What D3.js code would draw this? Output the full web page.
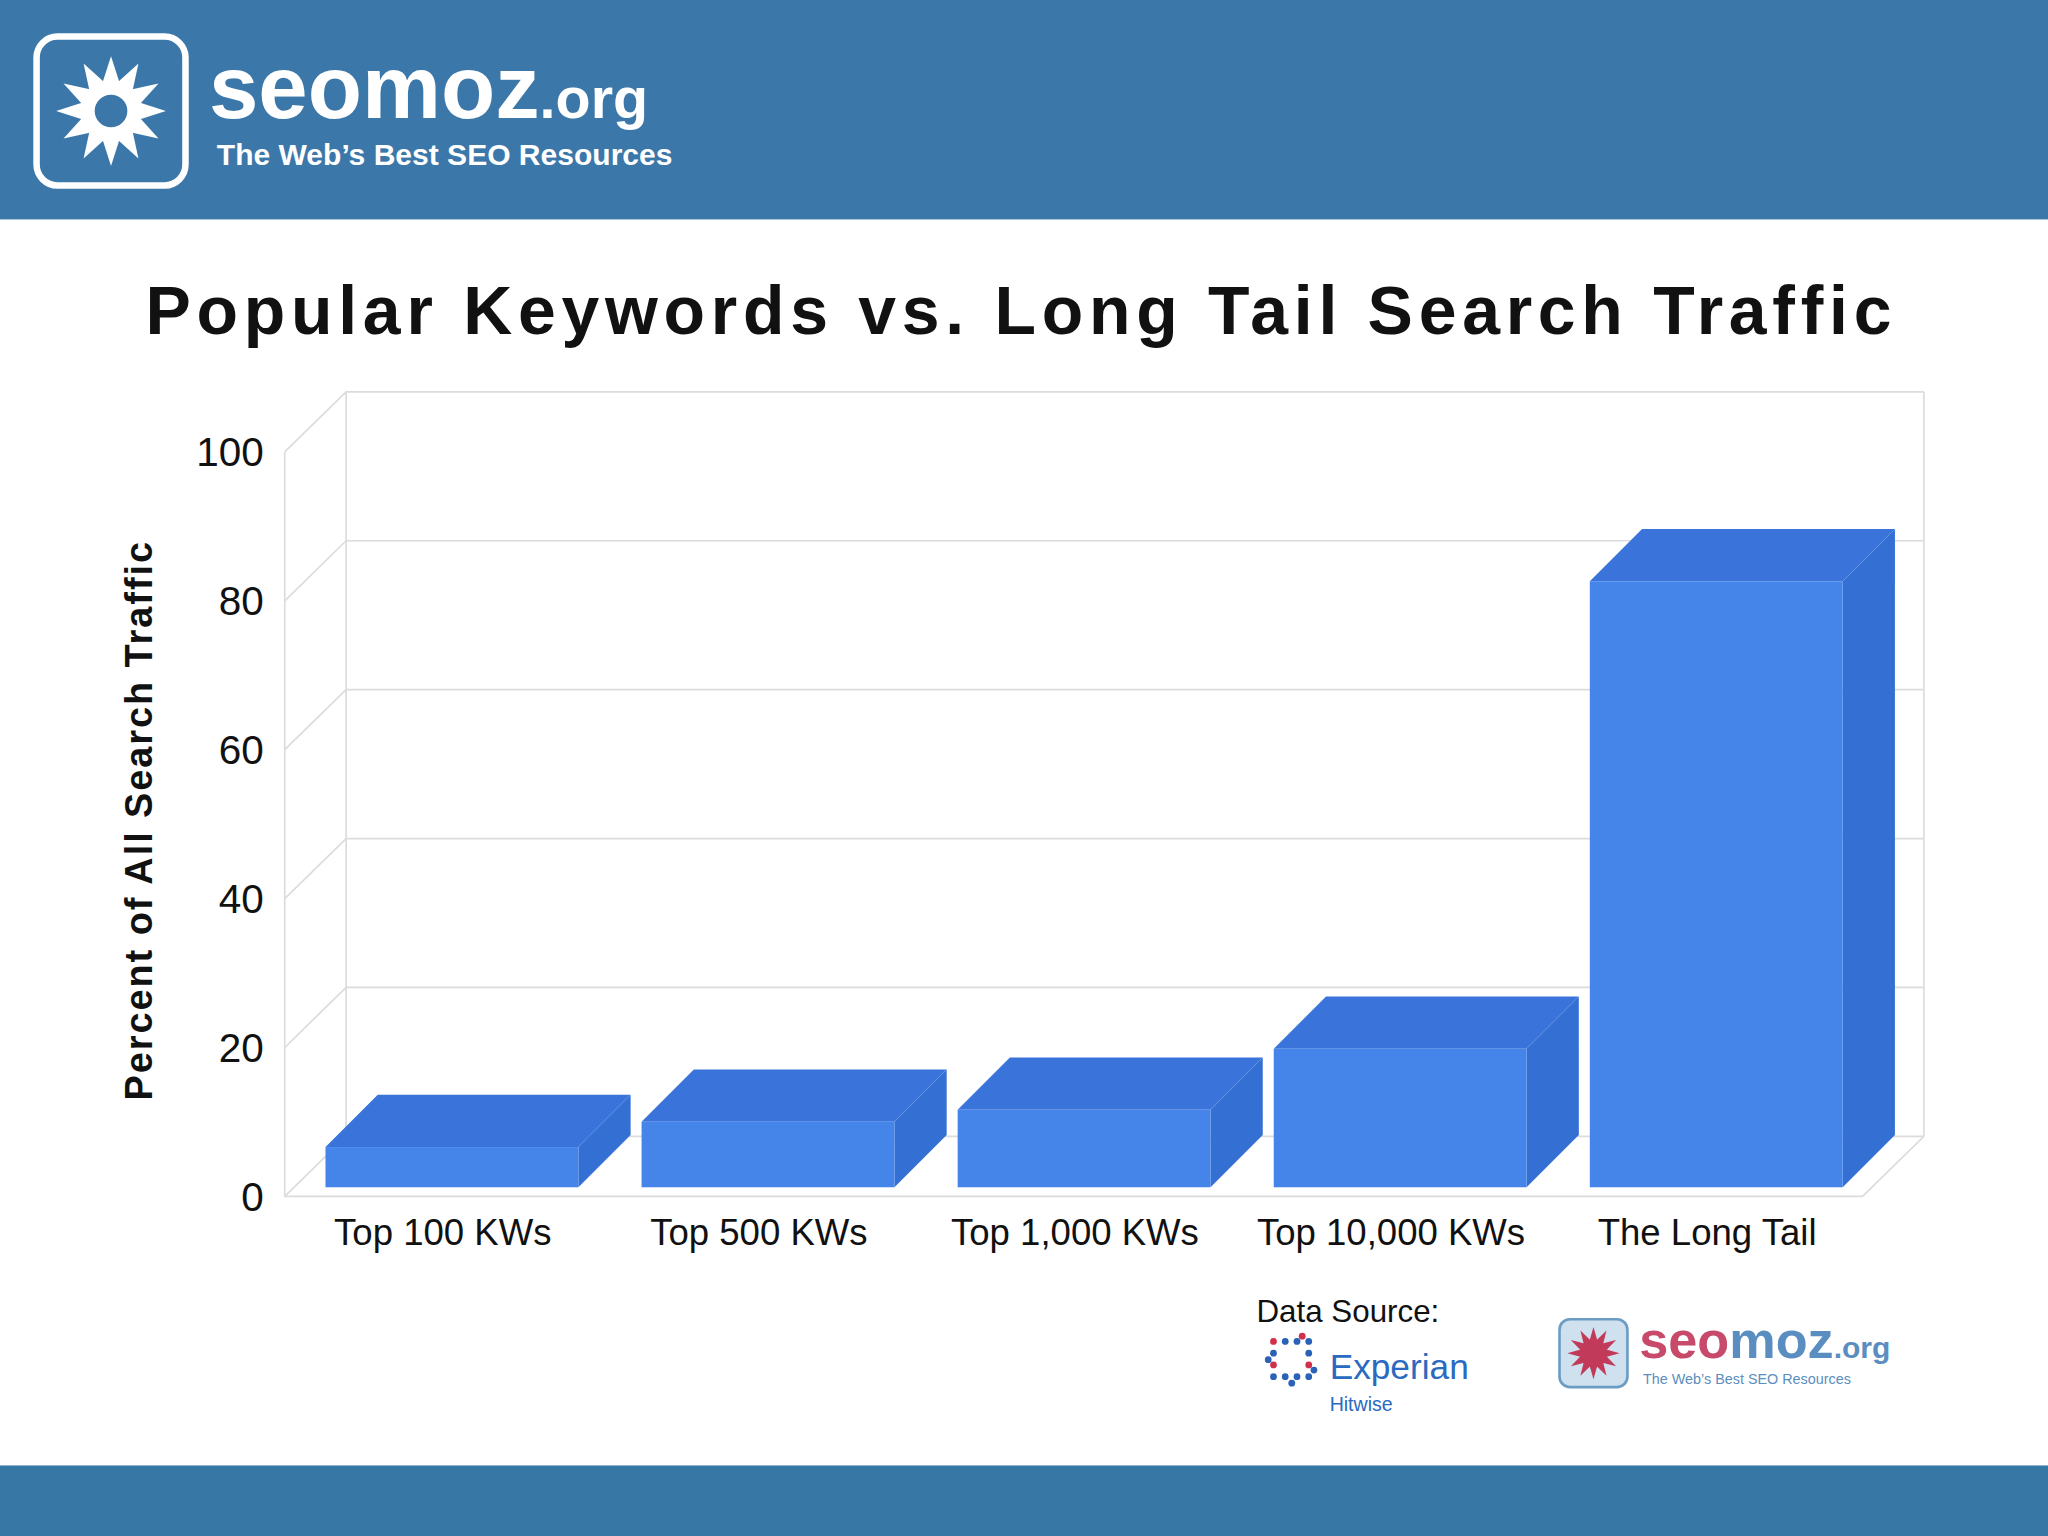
<!DOCTYPE html>
<html><head><meta charset="utf-8">
<script src="https://cdn.jsdelivr.net/npm/d3@7"></script>
<style>body{margin:0;background:#fff}svg{display:block}</style>
</head><body>
<div id="chart"></div>
<script>
// chart data
const categories = ["Top 100 KWs", "Top 500 KWs", "Top 1,000 KWs", "Top 10,000 KWs", "The Long Tail"];
const values = [5.4, 8.8, 10.4, 18.6, 81.4];
const yTicks = [0, 20, 40, 60, 80, 100];

// drawn in a 1568x1176 space, scaled up to the window
const svg = d3.select("#chart").append("svg")
  .attr("width", 2048).attr("height", 1536)
  .attr("viewBox", "0 0 1568 1176");

const font = "Liberation Sans, Arial, sans-serif";

// header and footer bands
svg.append("rect").attr("width", 1568).attr("height", 168).attr("fill", "#3b77a8");
svg.append("rect").attr("y", 1122).attr("width", 1568).attr("height", 54).attr("fill", "#3677a6");

// header logo
svg.append("rect").attr("x", 28).attr("y", 28).attr("width", 114).attr("height", 114)
  .attr("rx", 16).attr("fill", "none").attr("stroke", "#fff").attr("stroke-width", 5);
const flake = svg.append("g").attr("transform", "translate(85,85)");
d3.range(12).forEach(i => {
  flake.append("path").attr("d", "M-9,-14 L0,-42 L9,-14 Z").attr("fill", "#fff")
    .attr("transform", `rotate(${i * 30})`);
});
flake.append("circle").attr("r", 15).attr("fill", "#3b77a8").attr("stroke", "#fff").attr("stroke-width", 5);
svg.append("text").attr("x", 160).attr("y", 90).attr("fill", "#fff")
  .style("font", `bold 68px ${font}`).text("seomoz")
  .append("tspan").style("font-size", "44px").text(".org");
svg.append("text").attr("x", 166).attr("y", 126).attr("fill", "#fff")
  .style("font", `bold 23px ${font}`).text("The Web\u2019s Best SEO Resources");

// title
svg.append("text").attr("x", 782).attr("y", 256).attr("text-anchor", "middle")
  .style("font", `bold 52px ${font}`).style("letter-spacing", "4.4px").attr("fill", "#111")
  .text("Popular Keywords vs. Long Tail Search Traffic");

// geometry
const dx = 47, dy = -46;
const x0 = 218, x1 = 1426, yBase = 916;
const x = d3.scaleBand().domain(categories).range([x0 + 7, x1 + 9]).paddingInner(0.2).paddingOuter(0.1);
const y = d3.scaleLinear().domain([0, 100]).range([yBase, yBase - 570]);

// walls and gridlines
const grid = svg.append("g").attr("stroke", "#dcdcdc").attr("fill", "none").attr("stroke-width", 1.3);
yTicks.forEach(t => {
  grid.append("path").attr("d", `M${x0},${y(t)} L${x0 + dx},${y(t) + dy} L${x1 + dx},${y(t) + dy}`);
});
grid.append("path").attr("d", `M${x0},${y(0)} L${x0},${y(100)}`);
grid.append("path").attr("d", `M${x0 + dx},${y(0) + dy} L${x0 + dx},${y(100) + dy}`);
grid.append("path").attr("d", `M${x1 + dx},${y(0) + dy} L${x1 + dx},${y(100) + dy}`);
grid.append("path").attr("d", `M${x0},${y(0)} L${x1},${y(0)} L${x1 + dx},${y(0) + dy}`);

// y axis labels
svg.append("g").selectAll("text").data(yTicks).join("text")
  .attr("x", 202).attr("y", d => y(d) + 11).attr("text-anchor", "end")
  .style("font", `31px ${font}`).attr("fill", "#111").text(d => d);
svg.append("text").attr("transform", "translate(116,628) rotate(-90)").attr("text-anchor", "middle")
  .style("font", `bold 29px ${font}`).style("letter-spacing", "1.5px").attr("fill", "#111")
  .text("Percent of All Search Traffic");

// 3d bars
const bdx = 40, bdy = -40, lift = 7;
const bars = svg.append("g").selectAll("g").data(categories).join("g");
bars.each(function (c, i) {
  const g = d3.select(this);
  const bx = x(c), bw = x.bandwidth(), top = y(values[i]) - lift, bot = y(0) - lift;
  g.append("path").attr("fill", "#3470d4")
    .attr("d", `M${bx + bw},${top} L${bx + bw + bdx},${top + bdy} L${bx + bw + bdx},${bot + bdy} L${bx + bw},${bot} Z`);
  g.append("path").attr("fill", "#3a74da")
    .attr("d", `M${bx},${top} L${bx + bdx},${top + bdy} L${bx + bw + bdx},${top + bdy} L${bx + bw},${top} Z`);
  g.append("rect").attr("x", bx).attr("y", top).attr("width", bw).attr("height", bot - top).attr("fill", "#4585ea");
});

// category labels
svg.append("g").selectAll("text").data(categories).join("text")
  .attr("x", d => x(d) + x.bandwidth() / 2 - 7).attr("y", 953).attr("text-anchor", "middle")
  .style("font", `28px ${font}`).attr("fill", "#111").text(d => d);

// data source
svg.append("text").attr("x", 962).attr("y", 1012).style("font", `24px ${font}`).attr("fill", "#111").text("Data Source:");
const exp = svg.append("g").attr("transform", "translate(993,1045)");
[[-18,-18],[-9,-18],[0,-18],[9,-18],[-18,-9],[-18,0],[-18,9],[9,9],[0,9],[-9,9],[9,0],[9,-9],[-22,-4],[13,4],[-4,14],[4,-22]]
  .forEach(([a, b], k) => exp.append("circle").attr("cx", a).attr("cy", b).attr("r", 2.6)
    .attr("fill", k % 5 === 0 ? "#d0304a" : "#2a62b8"));
svg.append("text").attr("x", 1018).attr("y", 1056).style("font", `27px ${font}`).attr("fill", "#2a6ac0").text("Experian");
svg.append("text").attr("x", 1018).attr("y", 1080).style("font", `15px ${font}`).attr("fill", "#2a6ac0").text("Hitwise");

// small seomoz logo
svg.append("rect").attr("x", 1194).attr("y", 1010).attr("width", 52).attr("height", 52).attr("rx", 8)
  .attr("fill", "#cfe0ee").attr("stroke", "#6a9cc4").attr("stroke-width", 2);
const f2 = svg.append("g").attr("transform", "translate(1220,1036)");
d3.range(12).forEach(i => f2.append("path").attr("d", "M-4,-6 L0,-20 L4,-6 Z").attr("fill", "#c23a5a").attr("transform", `rotate(${i * 30})`));
f2.append("circle").attr("r", 7).attr("fill", "#c23a5a");
svg.append("text").attr("x", 1255).attr("y", 1040).style("font", `bold 40px ${font}`).attr("fill", "#c84a6a")
  .text("seo").append("tspan").attr("fill", "#5b8ec0").text("moz").append("tspan").style("font-size", "23px").text(".org");
svg.append("text").attr("x", 1258).attr("y", 1060).style("font", `11px ${font}`).attr("fill", "#5b8ec0")
  .text("The Web\u2019s Best SEO Resources");
</script>
</body></html>
